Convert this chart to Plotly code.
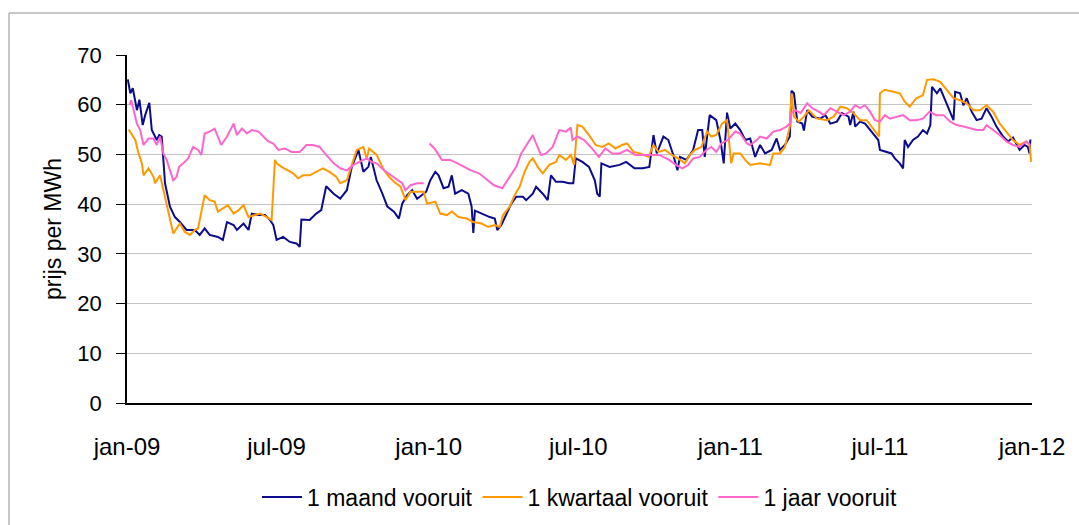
import plotly.graph_objects as go

# Forward electricity prices (EUR per MWh), three delivery horizons

maand_dates = [
    "2009-01-02", "2009-01-05", "2009-01-08", "2009-01-13", "2009-01-16", "2009-01-20", "2009-01-23",
    "2009-01-28", "2009-01-31", "2009-02-06", "2009-02-09", "2009-02-12", "2009-02-16", "2009-02-22",
    "2009-02-28", "2009-03-06", "2009-03-14", "2009-03-24", "2009-03-30", "2009-04-05", "2009-04-11",
    "2009-04-21", "2009-04-27", "2009-05-02", "2009-05-10", "2009-05-14", "2009-05-22", "2009-05-28",
    "2009-06-01", "2009-06-09", "2009-06-17", "2009-06-23", "2009-06-27", "2009-07-01", "2009-07-09",
    "2009-07-17", "2009-07-25", "2009-07-29", "2009-07-31", "2009-08-10", "2009-08-18", "2009-08-24",
    "2009-08-30", "2009-09-08", "2009-09-16", "2009-09-24", "2009-09-30", "2009-10-08", "2009-10-14",
    "2009-10-20", "2009-10-23", "2009-10-30", "2009-11-06", "2009-11-12", "2009-11-20", "2009-11-26",
    "2009-11-30", "2009-12-06", "2009-12-12", "2009-12-18", "2009-12-29",
    "2010-01-03", "2010-01-09", "2010-01-13", "2010-01-19", "2010-01-25", "2010-01-29", "2010-02-02",
    "2010-02-10", "2010-02-18", "2010-02-22", "2010-02-24", "2010-02-26", "2010-03-06", "2010-03-16",
    "2010-03-22", "2010-03-25", "2010-03-30", "2010-04-05", "2010-04-11", "2010-04-17", "2010-04-25",
    "2010-04-29", "2010-05-07", "2010-05-11", "2010-05-19", "2010-05-25", "2010-05-29", "2010-06-04",
    "2010-06-12", "2010-06-20", "2010-06-25", "2010-06-28", "2010-07-06", "2010-07-14", "2010-07-21",
    "2010-07-24", "2010-07-27", "2010-07-29", "2010-08-08", "2010-08-20", "2010-08-28", "2010-09-07",
    "2010-09-17", "2010-09-25", "2010-09-30", "2010-10-04", "2010-10-12", "2010-10-18", "2010-10-24",
    "2010-10-29", "2010-11-01", "2010-11-09", "2010-11-17", "2010-11-23", "2010-11-28", "2010-12-01",
    "2010-12-07", "2010-12-15", "2010-12-20", "2010-12-24", "2010-12-28",
    "2011-01-01", "2011-01-07", "2011-01-13", "2011-01-19", "2011-01-25", "2011-01-31", "2011-02-06",
    "2011-02-12", "2011-02-20", "2011-02-26", "2011-03-02", "2011-03-08", "2011-03-14", "2011-03-16",
    "2011-03-19", "2011-03-23", "2011-03-29", "2011-03-31", "2011-04-04", "2011-04-10", "2011-04-20",
    "2011-04-26", "2011-05-02", "2011-05-10", "2011-05-16", "2011-05-24", "2011-05-26", "2011-05-30",
    "2011-06-01", "2011-06-07", "2011-06-13", "2011-06-19", "2011-06-25", "2011-06-29", "2011-07-01",
    "2011-07-09", "2011-07-15", "2011-07-19", "2011-07-25", "2011-07-29", "2011-07-31", "2011-08-04",
    "2011-08-10", "2011-08-16", "2011-08-22", "2011-08-27", "2011-08-31", "2011-09-02", "2011-09-08",
    "2011-09-12", "2011-09-18", "2011-09-24", "2011-09-28", "2011-09-30", "2011-10-06", "2011-10-10",
    "2011-10-14", "2011-10-20", "2011-10-26", "2011-11-01", "2011-11-07", "2011-11-13", "2011-11-19",
    "2011-11-27", "2011-12-03", "2011-12-09", "2011-12-17", "2011-12-23", "2011-12-27", "2011-12-29",
    "2011-12-30",
]
maand_values = [
    65.1, 62.3, 63.3, 58.9, 61.0, 55.9, 57.9,
    60.4, 54.9, 52.9, 53.9, 53.6, 44.2, 39.5,
    37.4, 36.4, 34.8, 34.8, 33.8, 35.1, 33.8,
    33.4, 32.8, 36.4, 35.8, 34.8, 36.1, 34.8,
    38.1, 37.8, 37.8, 36.8, 35.8, 32.8, 33.4,
    32.4, 32.1, 31.4, 36.9, 36.8, 38.1, 38.8,
    43.6, 42.1, 41.1, 42.8, 47.5, 50.9, 46.5,
    47.5, 49.5, 44.8, 42.1, 39.5, 38.5, 37.1,
    40.1, 41.8, 42.8, 41.1, 42.5,
    44.8, 46.5, 45.8, 43.2, 43.5, 45.8, 42.1,
    42.8, 42.1, 39.5, 34.2, 38.7, 38.1, 37.4,
    37.1, 34.8, 35.8, 37.8, 40.1, 41.5, 41.5,
    40.8, 42.1, 43.5, 42.1, 40.8, 45.8, 44.5,
    44.5, 44.2, 44.2, 49.2, 48.5, 47.5, 44.8,
    42.1, 41.5, 48.2, 47.5, 47.9, 48.5, 47.2,
    47.2, 47.5, 53.9, 50.2, 53.6, 52.9, 49.9,
    46.8, 49.5, 48.9, 50.9, 54.9, 54.9, 49.5,
    57.9, 56.9, 52.9, 48.2, 58.4,
    55.2, 56.2, 54.9, 52.9, 53.2, 49.5, 51.9,
    50.2, 50.9, 53.2, 50.9, 51.9, 53.6, 62.8,
    62.3, 56.6, 56.2, 54.8, 58.9, 57.6, 57.2,
    57.9, 56.2, 56.6, 58.3, 57.6, 55.9, 58.6,
    55.6, 56.6, 56.2, 54.9, 53.6, 52.9, 50.9,
    50.5, 50.2, 49.2, 48.2, 47.2, 52.9, 51.5,
    52.9, 53.6, 54.9, 54.2, 55.9, 63.6, 62.3,
    63.3, 61.0, 58.6, 56.9, 62.6, 62.3, 59.9,
    61.3, 58.6, 56.9, 57.2, 59.3, 57.6, 55.6,
    53.6, 52.6, 53.4, 50.9, 51.9, 51.5, 50.2,
    53.0,
]

kwartaal_dates = [
    "2009-01-03", "2009-01-07", "2009-01-11", "2009-01-15", "2009-01-19", "2009-01-21", "2009-01-27",
    "2009-02-02", "2009-02-04", "2009-02-10", "2009-02-14", "2009-02-18", "2009-02-22", "2009-02-26",
    "2009-03-02", "2009-03-06", "2009-03-12", "2009-03-18", "2009-03-24", "2009-03-28", "2009-04-01",
    "2009-04-05", "2009-04-11", "2009-04-17", "2009-04-21", "2009-04-27", "2009-05-03", "2009-05-10",
    "2009-05-16", "2009-05-22", "2009-05-28", "2009-06-05", "2009-06-11", "2009-06-19", "2009-06-25",
    "2009-06-29", "2009-07-01", "2009-07-07", "2009-07-15", "2009-07-21", "2009-07-27", "2009-08-02",
    "2009-08-10", "2009-08-18", "2009-08-26", "2009-09-03", "2009-09-11", "2009-09-16", "2009-09-24",
    "2009-09-30", "2009-10-06", "2009-10-14", "2009-10-18", "2009-10-21", "2009-10-30", "2009-11-08",
    "2009-11-14", "2009-11-20", "2009-11-28", "2009-12-04", "2009-12-10", "2009-12-18", "2009-12-26",
    "2009-12-30",
    "2010-01-09", "2010-01-15", "2010-01-23", "2010-01-29", "2010-02-06", "2010-02-16", "2010-02-24",
    "2010-03-06", "2010-03-14", "2010-03-22", "2010-03-28", "2010-04-01", "2010-04-09", "2010-04-15",
    "2010-04-21", "2010-04-27", "2010-05-03", "2010-05-07", "2010-05-13", "2010-05-19", "2010-05-27",
    "2010-06-04", "2010-06-08", "2010-06-16", "2010-06-22", "2010-06-26", "2010-06-30", "2010-07-06",
    "2010-07-14", "2010-07-22", "2010-07-30", "2010-08-07", "2010-08-15", "2010-08-23", "2010-08-29",
    "2010-09-06", "2010-09-14", "2010-09-24", "2010-09-30", "2010-10-06", "2010-10-14", "2010-10-22",
    "2010-10-30", "2010-11-07", "2010-11-13", "2010-11-19", "2010-11-27", "2010-12-04", "2010-12-09",
    "2010-12-15", "2010-12-22", "2010-12-28", "2010-12-30",
    "2011-01-02", "2011-01-05", "2011-01-13", "2011-01-19", "2011-01-25", "2011-02-06", "2011-02-18",
    "2011-02-22", "2011-03-02", "2011-03-08", "2011-03-14", "2011-03-16", "2011-03-19", "2011-03-25",
    "2011-03-31", "2011-04-06", "2011-04-16", "2011-04-28", "2011-05-06", "2011-05-14", "2011-05-22",
    "2011-05-30", "2011-06-07", "2011-06-15", "2011-06-21", "2011-06-27", "2011-06-30", "2011-07-01",
    "2011-07-07", "2011-07-17", "2011-07-25", "2011-07-31", "2011-08-06", "2011-08-14", "2011-08-22",
    "2011-08-27", "2011-09-04", "2011-09-12", "2011-09-20", "2011-09-28", "2011-10-06", "2011-10-14",
    "2011-10-22", "2011-10-30", "2011-11-07", "2011-11-15", "2011-11-23", "2011-12-01", "2011-12-09",
    "2011-12-17", "2011-12-25", "2011-12-29", "2011-12-31",
]
kwartaal_values = [
    55.0, 53.9, 52.9, 50.2, 48.2, 45.8, 47.2,
    45.5, 44.2, 45.8, 42.8, 39.5, 37.1, 34.1,
    35.1, 36.1, 34.4, 33.8, 34.8, 35.1, 38.5,
    41.8, 40.8, 40.5, 38.5, 39.1, 39.8, 38.1,
    38.8, 39.8, 37.4, 37.8, 38.1, 37.4, 36.8,
    48.9, 48.2, 47.5, 46.8, 46.2, 45.2, 45.8,
    45.8, 46.5, 47.2, 46.5, 45.5, 44.2, 44.8,
    47.9, 50.9, 51.5, 49.2, 51.2, 49.9, 46.8,
    45.5, 44.5, 43.5, 40.8, 42.5, 42.5, 42.5,
    40.1,
    40.5, 38.1, 37.8, 38.5, 37.4, 37.1, 36.4,
    36.1, 35.4, 35.8, 35.4, 37.8, 39.5, 41.8,
    43.5, 46.5, 48.5, 49.2, 47.5, 46.2, 47.9,
    48.5, 49.9, 48.9, 49.9, 47.9, 55.9, 55.6,
    53.9, 51.9, 51.5, 52.2, 51.2, 51.9, 52.2,
    50.5, 50.2, 49.5, 51.9, 50.5, 50.9, 49.9,
    49.2, 48.2, 49.9, 50.9, 51.5, 54.6, 53.6,
    53.9, 56.2, 56.9, 52.9,
    48.2, 50.2, 50.2, 48.9, 47.9, 48.2, 47.9,
    50.2, 50.2, 51.5, 55.6, 62.3, 57.6, 56.6,
    57.6, 58.9, 57.2, 56.9, 57.6, 59.6, 59.3,
    58.3, 56.9, 56.9, 55.6, 54.2, 53.6, 62.3,
    63.0, 62.6, 62.3, 60.6, 59.6, 61.3, 61.9,
    65.0, 65.1, 64.6, 63.0, 61.3, 60.9, 60.3,
    58.9, 58.9, 59.9, 58.6, 56.2, 54.6, 52.9,
    51.9, 52.6, 51.9, 48.5,
]

# None marks the missing quotes around the turn of 2009/2010
jaar_dates = [
    "2009-01-04", "2009-01-06", "2009-01-08", "2009-01-13", "2009-01-17", "2009-01-21", "2009-01-27",
    "2009-02-02", "2009-02-06", "2009-02-10", "2009-02-14", "2009-02-18", "2009-02-22", "2009-02-26",
    "2009-03-02", "2009-03-05", "2009-03-10", "2009-03-16", "2009-03-22", "2009-03-28", "2009-04-01",
    "2009-04-05", "2009-04-11", "2009-04-17", "2009-04-21", "2009-04-25", "2009-05-02", "2009-05-10",
    "2009-05-14", "2009-05-20", "2009-05-26", "2009-06-01", "2009-06-09", "2009-06-15", "2009-06-21",
    "2009-06-27", "2009-07-03", "2009-07-11", "2009-07-19", "2009-07-29", "2009-08-06", "2009-08-14",
    "2009-08-22", "2009-08-30", "2009-09-08", "2009-09-16", "2009-09-24", "2009-10-02", "2009-10-10",
    "2009-10-18", "2009-10-24", "2009-10-30", "2009-11-08", "2009-11-16", "2009-11-24", "2009-11-30",
    "2009-12-04", "2009-12-10", "2009-12-18", "2009-12-26", "2009-12-29",
    "2010-01-02", "2010-01-08", "2010-01-17", "2010-01-27", "2010-02-05", "2010-02-13", "2010-02-21",
    "2010-03-03", "2010-03-13", "2010-03-21", "2010-03-31", "2010-04-05", "2010-04-11", "2010-04-17",
    "2010-04-23", "2010-04-29", "2010-05-07", "2010-05-11", "2010-05-17", "2010-05-23", "2010-05-31",
    "2010-06-08", "2010-06-16", "2010-06-22", "2010-06-24", "2010-06-30", "2010-07-08", "2010-07-16",
    "2010-07-26", "2010-08-03", "2010-08-11", "2010-08-20", "2010-08-29", "2010-09-08", "2010-09-17",
    "2010-09-25", "2010-10-07", "2010-10-19", "2010-10-27", "2010-11-04", "2010-11-11", "2010-11-17",
    "2010-11-25", "2010-12-03", "2010-12-09", "2010-12-15", "2010-12-21", "2010-12-29",
    "2011-01-07", "2011-01-13", "2011-01-21", "2011-01-25", "2011-02-02", "2011-02-06", "2011-02-14",
    "2011-02-22", "2011-03-02", "2011-03-10", "2011-03-14", "2011-03-16", "2011-03-21", "2011-03-27",
    "2011-04-04", "2011-04-10", "2011-04-18", "2011-04-24", "2011-05-02", "2011-05-10", "2011-05-18",
    "2011-05-26", "2011-06-01", "2011-06-07", "2011-06-13", "2011-06-19", "2011-06-25", "2011-07-01",
    "2011-07-07", "2011-07-13", "2011-07-21", "2011-07-29", "2011-08-06", "2011-08-14", "2011-08-22",
    "2011-08-30", "2011-09-07", "2011-09-16", "2011-09-24", "2011-10-02", "2011-10-10", "2011-10-18",
    "2011-10-26", "2011-11-03", "2011-11-07", "2011-11-15", "2011-11-23", "2011-12-01", "2011-12-09",
    "2011-12-17", "2011-12-25", "2011-12-30",
]
jaar_values = [
    59.9, 60.9, 59.6, 56.2, 54.9, 51.9, 53.2,
    53.2, 51.9, 53.6, 50.2, 48.9, 46.8, 44.8,
    45.5, 47.5, 48.2, 49.2, 51.5, 50.9, 49.9,
    54.2, 54.6, 55.2, 53.6, 51.9, 53.6, 56.2,
    53.9, 55.2, 54.2, 54.9, 54.6, 53.6, 52.6,
    52.2, 50.9, 51.2, 50.5, 50.5, 51.9, 51.9,
    51.5, 49.9, 48.2, 47.2, 46.8, 47.9, 48.5,
    49.2, 48.5, 48.2, 46.8, 45.8, 44.8, 44.2,
    42.8, 43.8, 44.2, 44.2, None,
    52.2, 51.2, 48.9, 48.9, 48.2, 47.5, 46.8,
    46.2, 44.8, 43.8, 43.2, 44.5, 46.2, 47.5,
    50.2, 51.9, 53.9, 52.2, 49.9, 50.2, 51.5,
    54.9, 54.6, 55.4, 52.9, 53.6, 52.9, 51.5,
    49.5, 51.2, 50.2, 50.2, 50.9, 49.9, 49.9,
    49.9, 49.9, 48.9, 47.9, 47.2, 47.9, 49.2,
    49.5, 50.9, 51.5, 50.5, 52.2, 52.9,
    54.6, 54.2, 52.2, 51.9, 52.9, 53.6, 53.2,
    54.6, 54.9, 55.6, 56.2, 58.3, 58.9, 58.3,
    60.3, 59.3, 58.6, 57.9, 59.3, 58.6, 57.9,
    58.6, 59.9, 59.3, 59.9, 58.6, 56.9, 56.6,
    57.9, 57.2, 57.6, 57.9, 56.9, 56.9, 57.2,
    58.6, 57.9, 57.9, 56.6, 55.9, 55.6, 55.2,
    54.9, 54.9, 55.9, 54.9, 53.9, 52.6, 51.9,
    51.5, 52.6, 51.9,
]

tick_dates = ["2009-01-01", "2009-07-01", "2010-01-01", "2010-07-01",
              "2011-01-01", "2011-07-01", "2012-01-01"]
tick_labels = ["jan-09", "jul-09", "jan-10", "jul-10", "jan-11", "jul-11", "jan-12"]

series = [
    ("1 maand vooruit", maand_dates, maand_values, "#0B0B8C"),
    ("1 kwartaal vooruit", kwartaal_dates, kwartaal_values, "#FF9900"),
    ("1 jaar vooruit", jaar_dates, jaar_values, "#FF66CC"),
]

FONT = "Liberation Sans, Arial, sans-serif"

fig = go.Figure()
for name, xs, ys, color in series:
    fig.add_trace(go.Scatter(
        x=xs, y=ys, name=name, mode="lines",
        line=dict(color=color, width=2),
        connectgaps=False,
    ))

# plot area: x 127..1032 px, y 55..403 px in a 1079x525 page
L, R, T, B = 127, 47, 55, 122
W, H = 1079 - L - R, 525 - T - B

def px_x(px):
    return (px - L) / W

def px_y(py):
    return (525 - B - py) / H

fig.update_layout(
    width=1079, height=525,
    margin=dict(l=L, r=R, t=T, b=B, autoexpand=False),
    paper_bgcolor="white", plot_bgcolor="white",
    font=dict(family=FONT, size=22, color="black"),
    showlegend=True,
    legend=dict(
        orientation="h", x=0.5, xanchor="center",
        y=px_y(497), yanchor="middle",
        font=dict(size=23), itemwidth=40, tracegroupgap=0,
        bgcolor="rgba(0,0,0,0)",
    ),
    xaxis=dict(
        type="date",
        range=["2009-01-01", "2012-01-01"],
        tickmode="array", tickvals=tick_dates, ticktext=tick_labels,
        showgrid=False, zeroline=False,
        showline=True, linecolor="black", linewidth=1.5,
        ticks="", ticklabelstandoff=21,
        tickfont=dict(size=24),
    ),
    yaxis=dict(
        range=[0, 70], dtick=10, tick0=0,
        showgrid=True, gridcolor="#c4c4c4", gridwidth=1.2,
        zeroline=False,
        showline=True, linecolor="black", linewidth=1.5,
        ticks="outside", ticklen=9, tickcolor="black", tickwidth=1.2,
        ticklabelstandoff=10,
        tickfont=dict(size=22),
        title=dict(text="prijs per MWh", standoff=9, font=dict(size=23)),
    ),
    shapes=[
        # outer chart frame (left and top edges)
        dict(type="line", xref="paper", yref="paper",
             x0=px_x(9), x1=px_x(9), y0=px_y(13), y1=px_y(560),
             line=dict(color="#b4b4b4", width=1.5)),
        dict(type="line", xref="paper", yref="paper",
             x0=px_x(9), x1=px_x(1090), y0=px_y(13), y1=px_y(13),
             line=dict(color="#b4b4b4", width=1.5)),
    ],
)

fig.write_html("out.html")
